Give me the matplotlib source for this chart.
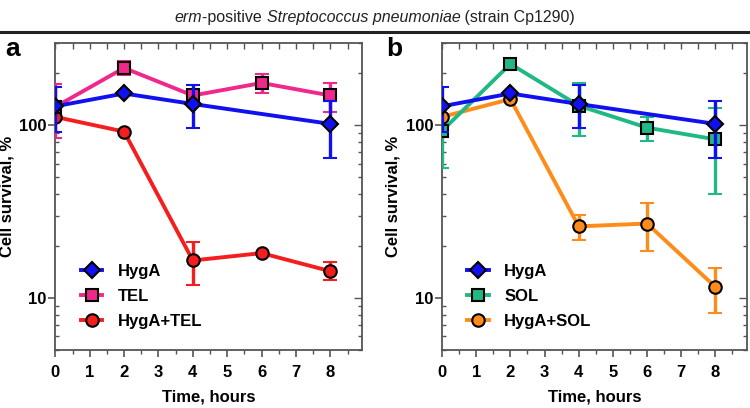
import matplotlib
matplotlib.use('Agg')
import matplotlib.pyplot as plt
from matplotlib.lines import Line2D
from matplotlib.ticker import LogLocator, NullFormatter, FixedLocator, MultipleLocator

plt.rcParams['font.family'] = ['Liberation Sans', 'DejaVu Sans']
plt.rcParams['font.weight'] = 'bold'

hours = [0, 2, 4, 6, 8]
hyga_t = [0, 2, 4, 8]

# HygA alone (same in both panels)
hyga = [129, 153, 133, 102]
hyga_lo = [92, 153, 97, 65]
hyga_hi = [167, 153, 171, 138]

# panel a
tel = [128, 215, 149, 176, 149]
tel_lo = [84, 197, 149, 154, 120]
tel_hi = [174, 235, 149, 199, 176]
hyga_tel = [112, 92, 16.5, 18.2, 14.3]
hyga_tel_lo = [112, 92, 11.9, 18.2, 12.8]
hyga_tel_hi = [112, 92, 21.1, 18.2, 16.1]

# panel b
sol = [93, 227, 130, 97, 83]
sol_lo = [57, 227, 86.5, 81.5, 40]
sol_hi = [93, 227, 175, 112, 126]
hyga_sol = [112, 142, 26, 27, 11.6]
hyga_sol_lo = [112, 142, 21.8, 18.8, 8.2]
hyga_sol_hi = [112, 142, 30.4, 35.5, 14.9]

C_BLUE = '#1010F0'
C_PINK = '#F0288C'
C_RED = '#F51E1E'
C_GREEN = '#22B884'
C_ORANGE = '#FF8C1A'


def errs(v, lo, hi):
    return [[a - b for a, b in zip(v, lo)], [c - a for a, c in zip(v, hi)]]


def series(ax, x, v, lo, hi, color, marker, ms, z):
    ax.errorbar(x, v, yerr=errs(v, lo, hi), color=color, lw=2.8, elinewidth=2.4,
                capsize=5, capthick=2.4, marker=marker, ms=ms, mfc=color,
                mec='black', mew=1.5, zorder=z)
    return Line2D([], [], color=color, lw=2.8, marker=marker, ms=ms, mfc=color,
                  mec='black', mew=1.5)


def style_axes(ax, ylab_x):
    ax.set_yscale('log')
    ax.set_ylim(5, 300)
    ax.set_xlim(-0.01, 8.92)
    for s in ax.spines.values():
        s.set_color('#555555')
        s.set_linewidth(1.3)
    ax.xaxis.set_major_locator(FixedLocator(range(9)))
    ax.xaxis.set_minor_locator(MultipleLocator(0.5))
    ax.tick_params(axis='x', which='major', direction='out', length=5, width=1.2,
                   color='#555555', labelsize=12, top=False, pad=6)
    ax.tick_params(axis='x', which='minor', direction='out', length=3, width=1.0,
                   color='#555555', top=False)
    ax.yaxis.set_major_locator(FixedLocator([10, 100]))
    ax.yaxis.set_major_formatter(matplotlib.ticker.FuncFormatter(lambda v, p: '%d' % v))
    ax.yaxis.set_minor_locator(LogLocator(base=10, subs=range(2, 10), numticks=20))
    ax.yaxis.set_minor_formatter(NullFormatter())
    ax.tick_params(axis='y', which='major', direction='out', length=5, width=1.2,
                   color='#555555', labelsize=12, right=False, pad=1)
    ax.tick_params(axis='y', which='minor', direction='in', length=3, width=1.0,
                   color='#555555', right=False)
    # inward ticks on top and right spines
    sx = ax.secondary_xaxis('top')
    sx.xaxis.set_major_locator(MultipleLocator(0.5))
    sx.tick_params(direction='in', length=4, width=1.0, color='#555555', labelsize=0)
    sx.set_xticklabels([])
    sx.spines['top'].set_visible(False)
    sy = ax.secondary_yaxis('right')
    sy.yaxis.set_major_locator(FixedLocator([10, 100]))
    sy.yaxis.set_minor_locator(LogLocator(base=10, subs=range(2, 10), numticks=20))
    sy.yaxis.set_minor_formatter(NullFormatter())
    sy.tick_params(which='major', direction='in', length=6, width=1.0, color='#555555')
    sy.tick_params(which='minor', direction='in', length=3, width=1.0, color='#555555')
    sy.set_yticklabels([])
    sy.spines['right'].set_visible(False)
    ax.set_xlabel('Time, hours', fontsize=12, fontweight='bold', labelpad=7)
    ax.set_ylabel('Cell survival, %', fontsize=12, fontweight='bold')
    ax.yaxis.set_label_coords(ylab_x, 0.5)


fig = plt.figure(figsize=(7.5, 4.08), dpi=100)
ax1 = fig.add_axes([0.0733, 0.1422, 0.4093, 0.7524])
ax2 = fig.add_axes([0.589, 0.1422, 0.4067, 0.7524])

h_ht = series(ax1, hours, hyga_tel, hyga_tel_lo, hyga_tel_hi, C_RED, 'o', 9, 3)
h_tel = series(ax1, hours, tel, tel_lo, tel_hi, C_PINK, 's', 9, 4)
h_hy1 = series(ax1, hyga_t, hyga, hyga_lo, hyga_hi, C_BLUE, 'D', 8, 5)

h_hs = series(ax2, hours, hyga_sol, hyga_sol_lo, hyga_sol_hi, C_ORANGE, 'o', 9, 3)
h_sol = series(ax2, hours, sol, sol_lo, sol_hi, C_GREEN, 's', 9, 4)
h_hy2 = series(ax2, hyga_t, hyga, hyga_lo, hyga_hi, C_BLUE, 'D', 8, 5)

style_axes(ax1, -0.132)
style_axes(ax2, -0.136)

leg_kw = dict(loc='lower left', bbox_to_anchor=(0.035, 0.02), frameon=False,
              handlelength=1.3, handletextpad=0.9, labelspacing=0.6,
              prop={'weight': 'bold', 'size': 12})
ax1.legend([h_hy1, h_tel, h_ht], ['HygA', 'TEL', 'HygA+TEL'], **leg_kw)
ax2.legend([h_hy2, h_sol, h_hs], ['HygA', 'SOL', 'HygA+SOL'], **leg_kw)

fig.text(0.007, 0.862, 'a', fontsize=19, fontweight='bold')
fig.text(0.515, 0.862, 'b', fontsize=19, fontweight='bold')

# separator line under the title
fig.add_artist(Line2D([0, 1], [0.922, 0.922], color='#222222', lw=2.2,
                      transform=fig.transFigure))

# title with mixed italic pieces, centred
pieces = [('erm', 'italic'), ('-positive ', 'normal'),
          ('Streptococcus pneumoniae', 'italic'), (' (strain Cp1290)', 'normal')]
fig.canvas.draw()
r = fig.canvas.get_renderer()
texts = []
for s, st in pieces:
    t = fig.text(0, 0.958, s, fontsize=11.5, fontstyle=st, fontweight='normal',
                 va='center', ha='left', color='#222222')
    texts.append(t)
widths = [t.get_window_extent(r).width for t in texts]
x = (fig.bbox.width - sum(widths)) / 2
for t, w in zip(texts, widths):
    t.set_x(x / fig.bbox.width)
    x += w

fig.savefig('out.png', dpi=100)
